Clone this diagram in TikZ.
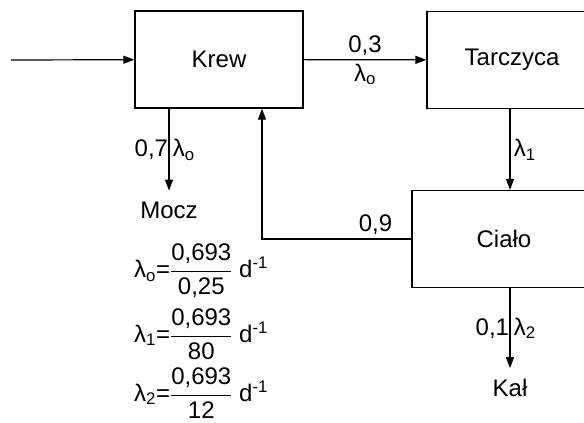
\documentclass[tikz,border=0pt]{standalone}
\usepackage{fontspec}
\setmainfont{Liberation Sans}
\usetikzlibrary{arrows.meta}

\tikzset{
	box/.style={draw, line width=1.3pt, minimum height=97pt, inner sep=0pt},
	flow/.style={line width=1.2pt, -{Triangle[length=11pt, width=8pt]}},
	sink/.style={inner sep=3pt, outer sep=8pt},
	formula/.style={anchor=west, inner sep=0pt}
}

\begin{document}
\begin{tikzpicture}[x=1pt, y=-1pt, font=\fontsize{24}{29}\selectfont]
	\useasboundingbox (0,0) rectangle (584,423);
	\node[box, minimum width=168pt] (krew) at (219,59.5) {Krew};
	\node[box, minimum width=170pt] (tarczyca) at (512,60) {Tarczyca};
	\node[box, minimum width=184pt] (cialo) at (504,239) {Ciało};
	\node[sink] (mocz) at (169,210) {Mocz};
	\node[sink] (kal) at (510,388) {Kał};
	\coordinate (in) at (11,60);

	\draw[flow] (in) -- (krew);
	\draw[flow] (krew) -- node[above] {0,3} node[below] {λ\textsubscript{o}} (tarczyca);
	\draw[flow] (krew.south -| mocz.north) -- node[left, xshift=3pt] {0,7} node[right] {λ\textsubscript{o}} (mocz.north);
	\draw[flow] (tarczyca.south -| kal.north) -- node[right] {λ\textsubscript{1}} (cialo.north -| kal.north);
	\draw[flow] (cialo.west) -| node[pos=0.12, above] {0,9} ([xshift=43pt]krew.south);
	\draw[flow] (cialo.south -| kal.north) -- node[left, xshift=3pt] {0,1} node[right] {λ\textsubscript{2}} (kal.north);

	\node[formula] (f0) at (134,271) {λ\textsubscript{o}=$\displaystyle\frac{\mbox{0,693}}{\mbox{0,25}}$ d\textsuperscript{-1}};
	\node[formula] (f1) at (134,334) {λ\textsubscript{1}=$\displaystyle\frac{\mbox{0,693}}{\mbox{80}}$ d\textsuperscript{-1}};
	\node[formula] (f2) at (134,393) {λ\textsubscript{2}=$\displaystyle\frac{\mbox{0,693}}{\mbox{12}}$ d\textsuperscript{-1}};

\end{tikzpicture}
\end{document}
